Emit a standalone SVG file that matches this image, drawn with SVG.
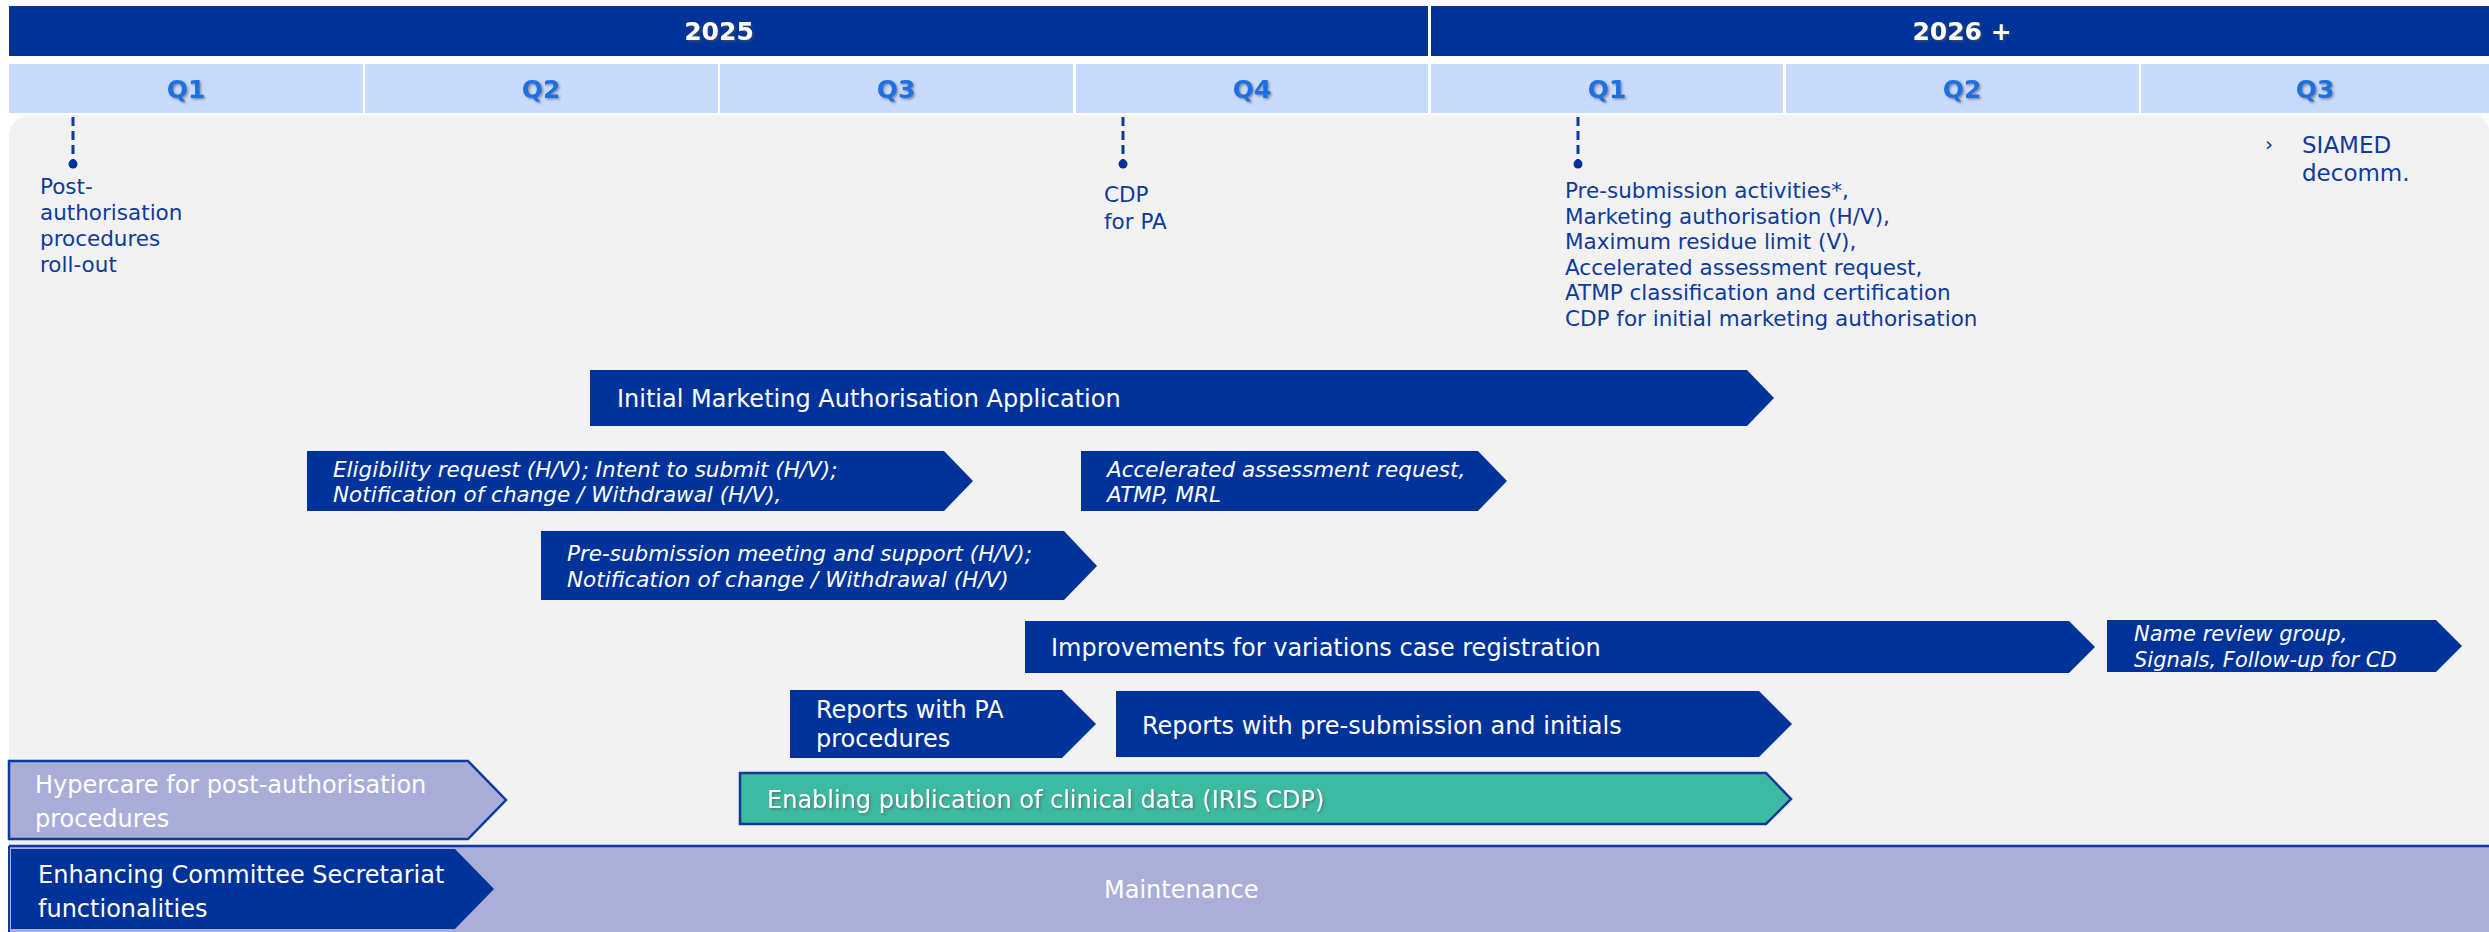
<svg xmlns="http://www.w3.org/2000/svg" width="2489" height="932" viewBox="0 0 2489 932">
<defs>
<style>
text{font-family:"DejaVu Sans",Verdana,"Liberation Sans",sans-serif;}
.yr{font-size:25px;font-weight:bold;fill:#ffffff;text-anchor:middle;}
.q{font-size:25px;font-weight:bold;fill:#1b6fe2;text-anchor:middle;}
.ms{font-size:21.5px;fill:#0f3a9c;}
.bt{font-size:24px;fill:#ffffff;}
.it{font-size:21.5px;font-style:italic;fill:#ffffff;}
.dark{fill:#003399;}
.dash{stroke:#0f3a9c;stroke-width:3;stroke-dasharray:9 5;fill:none;}
</style>
<filter id="sh" x="-10%" y="-20%" width="130%" height="150%">
<feDropShadow dx="1.5" dy="1.5" stdDeviation="0.8" flood-color="#555555" flood-opacity="0.6"/>
</filter>
</defs>
<rect x="0" y="0" width="2489" height="932" fill="#ffffff"/>

<g id="header">
<rect x="9" y="6" width="1419" height="50" fill="#003399"/>
<rect x="1431" y="6" width="1058" height="50" fill="#003399"/>
<text class="yr" x="719" y="40" filter="url(#sh)">2025</text>
<text class="yr" x="1962" y="40" filter="url(#sh)">2026 +</text>
<rect x="9" y="64" width="354" height="49" fill="#c9dbfc"/>
<rect x="365" y="64" width="353" height="49" fill="#c9dbfc"/>
<rect x="720" y="64" width="353" height="49" fill="#c9dbfc"/>
<rect x="1076" y="64" width="352" height="49" fill="#c9dbfc"/>
<rect x="1431" y="64" width="352" height="49" fill="#c9dbfc"/>
<rect x="1786" y="64" width="353" height="49" fill="#c9dbfc"/>
<rect x="2141" y="64" width="348" height="49" fill="#c9dbfc"/>
<text class="q" x="186" y="98" filter="url(#sh)">Q1</text>
<text class="q" x="541" y="98" filter="url(#sh)">Q2</text>
<text class="q" x="896" y="98" filter="url(#sh)">Q3</text>
<text class="q" x="1252" y="98" filter="url(#sh)">Q4</text>
<text class="q" x="1607" y="98" filter="url(#sh)">Q1</text>
<text class="q" x="1962" y="98" filter="url(#sh)">Q2</text>
<text class="q" x="2315" y="98" filter="url(#sh)">Q3</text>
</g>

<path id="panel" d="M9,140 Q9,115 34,115 H2481 L2489,128 V932 H9 Z" fill="#f2f2f2"/>

<g id="milestone-pa">
<line class="dash" x1="73" y1="117" x2="73" y2="162"/>
<circle cx="73" cy="164" r="4.5" class="dark"/>
<text class="ms" x="40"><tspan x="40" y="194">Post-</tspan><tspan x="40" y="220">authorisation</tspan><tspan x="40" y="246">procedures</tspan><tspan x="40" y="272">roll-out</tspan></text>
</g>

<g id="milestone-cdp">
<line class="dash" x1="1123" y1="117" x2="1123" y2="162"/>
<circle cx="1123" cy="164" r="4.5" class="dark"/>
<text class="ms"><tspan x="1104" y="202">CDP</tspan><tspan x="1104" y="229">for PA</tspan></text>
</g>

<g id="milestone-presub">
<line class="dash" x1="1578" y1="117" x2="1578" y2="162"/>
<circle cx="1578" cy="164" r="4.5" class="dark"/>
<text class="ms"><tspan x="1565" y="198">Pre-submission activities*,</tspan><tspan x="1565" y="223.5">Marketing authorisation (H/V),</tspan><tspan x="1565" y="249">Maximum residue limit (V),</tspan><tspan x="1565" y="274.5">Accelerated assessment request,</tspan><tspan x="1565" y="300">ATMP classification and certification</tspan><tspan x="1565" y="325.5">CDP for initial marketing authorisation</tspan></text>
</g>

<g id="milestone-siamed">
<text class="ms" x="2265" y="151" style="font-size:20px">›</text>
<text class="ms" style="font-size:23px"><tspan x="2302" y="153">SIAMED</tspan><tspan x="2302" y="181">decomm.</tspan></text>
</g>

<g id="connectors"></g>

<g id="bar-initial-maa">
<path class="dark" d="M590,370 H1747 L1774,398 L1747,426 H590 Z"/>
<text class="bt" x="617" y="407">Initial Marketing Authorisation Application</text>
</g>

<g id="bar-eligibility">
<path class="dark" d="M307,451 H944 L973,481 L944,511 H307 Z"/>
<text class="it"><tspan x="333" y="477">Eligibility request (H/V); Intent to submit (H/V);</tspan><tspan x="333" y="502">Notification of change / Withdrawal (H/V),</tspan></text>
</g>

<g id="bar-accelerated">
<path class="dark" d="M1081,451 H1478 L1507,481 L1478,511 H1081 Z"/>
<text class="it"><tspan x="1107" y="477">Accelerated assessment request,</tspan><tspan x="1107" y="502">ATMP, MRL</tspan></text>
</g>

<g id="bar-presub-meeting">
<path class="dark" d="M541,531 H1064 L1097,566 L1064,600 H541 Z"/>
<text class="it"><tspan x="567" y="561">Pre-submission meeting and support (H/V);</tspan><tspan x="567" y="587">Notification of change / Withdrawal (H/V)</tspan></text>
</g>

<g id="bar-improvements">
<path class="dark" d="M1025,621 H2069 L2095,647 L2069,673 H1025 Z"/>
<text class="bt" x="1051" y="656">Improvements for variations case registration</text>
</g>

<g id="bar-name-review">
<path class="dark" d="M2107,620 H2436 L2462,646 L2436,672 H2107 Z"/>
<text class="it" style="font-size:21px"><tspan x="2134" y="641">Name review group,</tspan><tspan x="2134" y="667">Signals, Follow-up for CD</tspan></text>
</g>

<g id="bar-reports-pa">
<path class="dark" d="M790,690 H1062 L1096,724 L1062,758 H790 Z"/>
<text class="bt"><tspan x="816" y="718">Reports with PA</tspan><tspan x="816" y="747">procedures</tspan></text>
</g>

<g id="bar-reports-presub">
<path class="dark" d="M1116,691 H1759 L1792,724 L1759,757 H1116 Z"/>
<text class="bt" x="1142" y="734">Reports with pre-submission and initials</text>
</g>

<g id="bar-enabling-cdp">
<path d="M740,773 H1766 L1791,799 L1766,824 H740 Z" fill="#3dbaa2" stroke="#0f3a9c" stroke-width="2.5"/>
<text class="bt" x="767" y="808" filter="url(#sh)">Enabling publication of clinical data (IRIS CDP)</text>
</g>

<g id="bar-hypercare">
<path d="M9,761 H468 L506,800 L468,839 H9 Z" fill="#a9aed9" stroke="#0f3a9c" stroke-width="2.5"/>
<text class="bt"><tspan x="35" y="793">Hypercare for post-authorisation</tspan><tspan x="35" y="827">procedures</tspan></text>
</g>

<g id="band-maintenance">
<rect x="9" y="846" width="2480" height="86" fill="#aaaed9"/>
<line x1="9" y1="846" x2="2489" y2="846" stroke="#0f3a9c" stroke-width="2.5"/>
<line x1="9" y1="846" x2="9" y2="932" stroke="#0f3a9c" stroke-width="2"/>
<text class="bt" x="1104" y="898">Maintenance</text>
</g>

<g id="bar-enhancing">
<path class="dark" d="M11,849 H455 L494,889 L455,929 H11 Z"/>
<text class="bt"><tspan x="38" y="883">Enhancing Committee Secretariat</tspan><tspan x="38" y="917">functionalities</tspan></text>
</g>
</svg>
